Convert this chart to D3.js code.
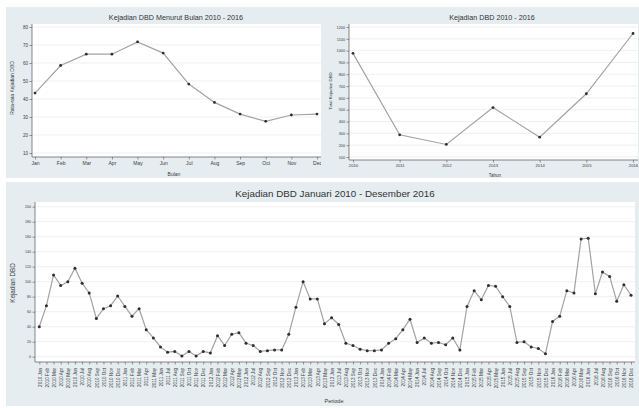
<!DOCTYPE html>
<html><head><meta charset="utf-8">
<script src="https://cdn.jsdelivr.net/npm/d3@7"></script>
<style>
html,body{margin:0;padding:0;background:#fff;}
svg{display:block;font-family:"Liberation Sans",Arial,sans-serif;}
</style></head>
<body><svg id="c" width="639" height="408"></svg>
<script>
// ---- data ----
const months = ["Jan","Feb","Mar","Apr","May","Jun","Jul","Aug","Sep","Oct","Nov","Dec"];
const monthlyAvg = [43.3, 58.6, 64.9, 64.9, 71.7, 65.5, 48.3, 38.1, 31.6, 27.6, 31.1, 31.6];
const years = ["2010","2011","2012","2013","2014","2015","2016"];
const yearlyTotal = [977, 288, 206, 518, 268, 635, 1145];
const cases2010 = [40,68,109,95,100,118,98,85,51,64,68,81];
const cases2011 = [67,54,64,36,25,13,6,7,1,7,1,7];
const cases2012 = [5,28,15,30,32,18,15,7,8,9,9,30];
const cases2013 = [66,100,77,77,44,52,43,18,15,10,8,8];
const cases2014 = [9,18,24,36,50,19,25,18,19,16,25,9];
const cases2015 = [67,88,76,95,94,80,67,19,20,13,11,4];
const cases2016 = [47,54,88,85,157,158,84,113,107,74,96,82];
const ticksMonthAvg = [10,20,30,40,50,60,70,80];
const ticksYear = [100,200,300,400,500,600,700,800,900,1000,1100,1200];
const ticksPeriod = [0,20,40,60,80,100,120,140,160,180,200];

const monthlyCases = [cases2010,cases2011,cases2012,cases2013,cases2014,cases2015,cases2016].flat();
const periodLabels = years.flatMap(y => months.map(m => y + " " + m));

const svg = d3.select("#c");
const BG = "#e6edf1";
const LINE = "#a3a3a3";
const DOT = "#2e2e2e";
const TXT = "#3a3a3a";

function panel(o){
  const g = svg.append("g");
  g.append("rect").attr("x",o.bx).attr("y",o.by).attr("width",o.bw).attr("height",o.bh).attr("fill",BG);
  g.append("rect").attr("x",o.px).attr("y",o.py).attr("width",o.pw).attr("height",o.ph).attr("fill","#fff");
  const x = d3.scalePoint().domain(o.cats).range(o.xr);
  const y = d3.scaleLinear().domain(o.yd).range(o.yr);
  // grid
  g.append("g").selectAll("line").data(o.yticks).join("line")
    .attr("x1",o.px).attr("x2",o.px+o.pw).attr("y1",d=>y(d)).attr("y2",d=>y(d))
    .attr("stroke","#eaeaea").attr("stroke-width",0.7);
  // y axis
  const ya = g.append("g").attr("transform",`translate(${o.px},0)`)
    .call(d3.axisLeft(y).tickValues(o.yticks).tickFormat(d3.format("d")).tickSize(2.5).tickPadding(1.5).tickSizeOuter(0));
  ya.select(".domain").attr("d",`M0,${o.py}V${o.py+o.ph}`);
  ya.selectAll("text").attr("font-size",o.yfs).attr("fill",TXT).attr("font-family",null);
  // x axis
  const xa = g.append("g").attr("transform",`translate(0,${o.py+o.ph})`)
    .call(d3.axisBottom(x).tickSize(2.5).tickPadding(o.xpad||2).tickSizeOuter(0));
  xa.select(".domain").attr("d",`M${o.px},0H${o.px+o.pw}`);
  xa.selectAll("text").attr("font-size",o.xfs).attr("fill",TXT).attr("font-family",null);
  g.selectAll(".domain").attr("stroke","#555").attr("stroke-width",0.7);
  g.selectAll(".tick line").attr("stroke","#555").attr("stroke-width",0.6);
  if(o.rotate){
    xa.selectAll("text").attr("text-anchor","end")
      .attr("dx",0).attr("dy",0).attr("x",0).attr("y",0)
      .attr("transform","translate(1.7,6) rotate(-90)");
  }
  // line + dots
  const pts = o.cats.map((c,i)=>[x(c), y(o.vals[i])]);
  g.append("path").attr("d",d3.line()(pts)).attr("fill","none").attr("stroke",LINE).attr("stroke-width",1.2);
  g.append("g").selectAll("circle").data(pts).join("circle")
    .attr("cx",d=>d[0]).attr("cy",d=>d[1]).attr("r",o.r||1.4).attr("fill",DOT);
  // titles
  g.append("text").attr("x",o.tx).attr("y",o.ty).attr("text-anchor","middle")
    .attr("font-size",o.tfs).attr("fill","#333").text(o.title);
  g.append("text").attr("x",o.xtx).attr("y",o.xty).attr("text-anchor","middle")
    .attr("font-size",o.atfs).attr("fill",TXT).text(o.xtitle);
  g.append("text").attr("transform",`translate(${o.ytx},${o.yty}) rotate(-90)`).attr("text-anchor","middle")
    .attr("font-size",o.ytfs).attr("fill",TXT).text(o.ytitle);
}

panel({bx:6,by:7,bw:315,bh:171, px:32,py:24,pw:289,ph:133,
  cats:months, vals:monthlyAvg, xr:[35,317], yd:[10,80], yr:[153,27], yticks:ticksMonthAvg,
  yfs:4.5, xfs:5, title:"Kejadian DBD Menurut Bulan 2010 - 2016", tx:176, ty:20, tfs:7.2,
  xtitle:"Bulan", xtx:174, xty:176, atfs:5, ytitle:"Rata-rata Kejadian DBD", ytx:14, yty:88, ytfs:5});

panel({bx:321,by:7,bw:318,bh:171, px:349,py:24,pw:289,ph:136,
  cats:years, vals:yearlyTotal, xr:[353,633], yd:[100,1200], yr:[157,27], yticks:ticksYear,
  yfs:3.8, xfs:4.2, title:"Kejadian DBD 2010 - 2016", tx:492, ty:20, tfs:7.2,
  xtitle:"Tahun", xtx:495, xty:177, atfs:4.5, ytitle:"Total Kejadian DBD", ytx:332, yty:91, ytfs:4.3});

panel({bx:6,by:182,bw:633,bh:224, px:35,py:202,pw:600,ph:160,
  cats:periodLabels, vals:monthlyCases, xr:[39.3,631], yd:[0,200], yr:[356.7,206.7], yticks:ticksPeriod,
  yfs:3.6, xfs:4.6, rotate:true, r:1.5,
  title:"Kejadian DBD Januari 2010 - Desember 2016", tx:335, ty:197, tfs:9.8,
  xtitle:"Periode", xtx:334, xty:403, atfs:5.5, ytitle:"Kejadian DBD", ytx:15, yty:283, ytfs:6.3});
</script></body></html>
